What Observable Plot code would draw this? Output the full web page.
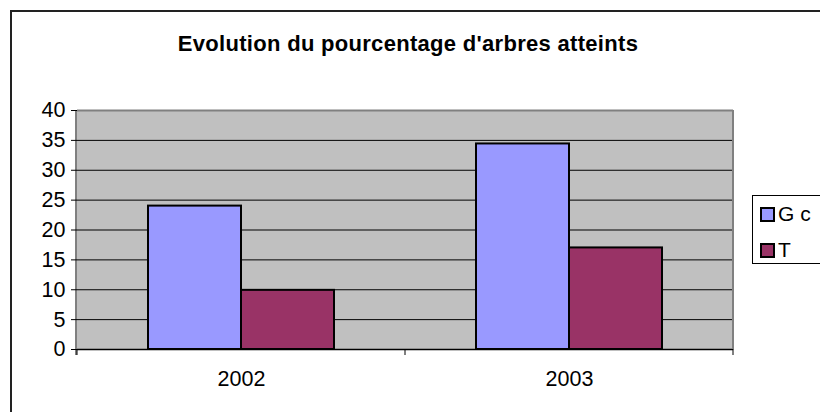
<!DOCTYPE html>
<html>
<head>
<meta charset="utf-8">
<script src="https://cdn.jsdelivr.net/npm/d3@7"></script>
<script src="https://cdn.jsdelivr.net/npm/@observablehq/plot@0.6"></script>
<style>
  html, body { margin: 0; padding: 0; background: #fff; overflow: hidden; }
  #wrap { position: relative; width: 820px; height: 412px; overflow: hidden; font-family: "Liberation Sans", Arial, sans-serif; }
  #frame { position: absolute; left: 10px; top: 10px; width: 900px; height: 500px; border-left: 2px solid #222; border-top: 2px solid #222; box-sizing: border-box; }
  #title { position: absolute; left: 0; top: 33px; width: 816px; text-align: center; font-weight: bold; font-size: 22px; line-height: 22px; letter-spacing: 0.3px; color: #000; }
  #legend { position: absolute; left: 752px; top: 195px; width: 100px; height: 69px; border: 1px solid #000; background: #fff; box-sizing: border-box; }
  .item { position: absolute; left: 7px; height: 20px; display: flex; align-items: center; font-size: 21px; color: #000; }
  .sw { width: 11px; height: 11px; border: 2px solid #000; margin-right: 3px; }
  #chart { position: absolute; left: 0; top: 0; }
</style>
</head>
<body>
<div id="wrap">
  <div id="frame"></div>
  <div id="chart"></div>
  <div id="title">Evolution du pourcentage d'arbres atteints</div>
  <div id="legend"></div>
</div>
<script>
const years = ["2002", "2003"];
const seriesNames = ["G c", "T"];
const valuesGc = [24, 34.4];
const valuesT = [9.9, 17];
const seriesColors = ["#9999FF", "#993366"];
const yTicks = [0, 5, 10, 15, 20, 25, 30, 35, 40];

(function () {
  const data = years.flatMap((yr, i) => [
    {year: yr, series: seriesNames[0], value: valuesGc[i]},
    {year: yr, series: seriesNames[1], value: valuesT[i]}
  ]);

  const plot = Plot.plot({
    width: 820,
    height: 412,
    marginLeft: 76,
    marginRight: 87,
    marginTop: 110,
    marginBottom: 63,
    style: {fontFamily: "'Liberation Sans', Arial, sans-serif", fontSize: "21.5px", color: "#000", background: "transparent", overflow: "visible"},
    fx: {domain: years, padding: 0, label: null, axis: "bottom", tickSize: 0, tickPadding: 21},
    x: {domain: seriesNames, paddingInner: 0, paddingOuter: 0.75, axis: null},
    y: {domain: [0, 40], ticks: yTicks, label: null, tickSize: 6, tickPadding: 6},
    color: {domain: seriesNames, range: seriesColors},
    marks: [
      Plot.frame({fill: "#C0C0C0", stroke: "#C0C0C0", strokeWidth: 1}),
      Plot.ruleY(yTicks.slice(1, -1), {stroke: "#000", strokeWidth: 1}),
      Plot.ruleY([yTicks[yTicks.length - 1]], {stroke: "#808080", strokeWidth: 2}),
      Plot.barY(data, {fx: "year", x: "series", y: "value", fill: "series", stroke: "#000", strokeWidth: 2}),
      Plot.ruleY([0], {stroke: "#000", strokeWidth: 1.5})
    ]
  });
  document.getElementById("chart").appendChild(plot);

  // decorations positioned from the plot's own scales
  const svg = d3.select(plot);
  const fxs = plot.scale("fx");
  const ys = plot.scale("y");
  const [xLeft, xRight] = fxs.range;
  const [yBottom, yTop] = ys.range;
  const g = svg.append("g");
  g.append("line").attr("x1", xRight).attr("x2", xRight).attr("y1", yTop).attr("y2", yBottom)
    .attr("stroke", "#808080").attr("stroke-width", 2);
  g.append("line").attr("x1", xLeft).attr("x2", xLeft).attr("y1", yTop).attr("y2", yBottom + 6)
    .attr("stroke", "#000").attr("stroke-width", 1);
  const bounds = years.map(d => fxs.apply(d)).concat([fxs.apply(years[years.length - 1]) + fxs.bandwidth]);
  bounds.forEach(b => {
    g.append("line").attr("x1", b).attr("x2", b).attr("y1", yBottom).attr("y2", yBottom + 6)
      .attr("stroke", "#000").attr("stroke-width", 1);
  });

  // legend
  const legend = document.getElementById("legend");
  seriesNames.forEach((s, i) => {
    const it = document.createElement("div");
    it.className = "item";
    it.style.top = (8 + i * 36) + "px";
    const sw = document.createElement("div");
    sw.className = "sw";
    sw.style.background = seriesColors[i];
    const tx = document.createElement("span");
    tx.textContent = s;
    it.appendChild(sw);
    it.appendChild(tx);
    legend.appendChild(it);
  });
})();
</script>
</body>
</html>
